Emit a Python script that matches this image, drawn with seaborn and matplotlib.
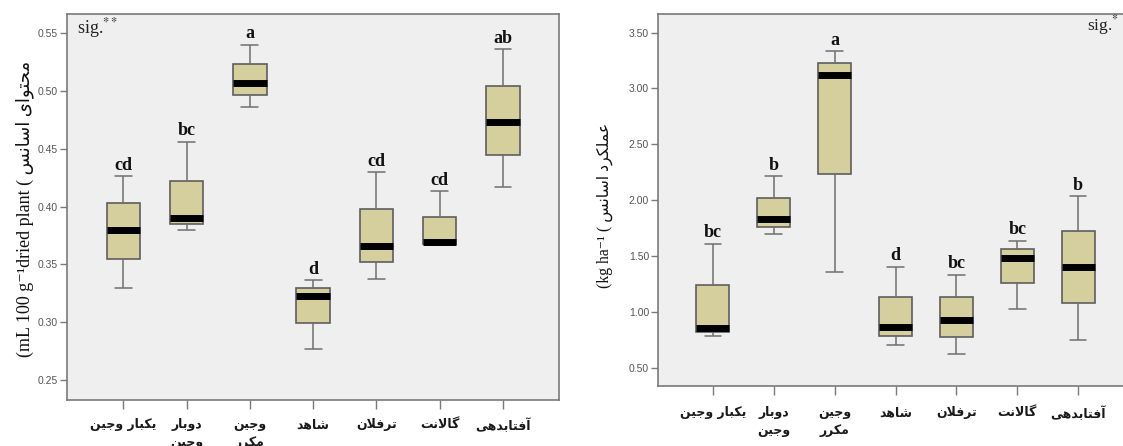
import numpy as np
import pandas as pd
import matplotlib
matplotlib.use("Agg")
import matplotlib.pyplot as plt
import seaborn as sns

# ---------------- data ----------------
categories = ["یکبار وجین", "دوبار\nوجین", "وجین\nمکرر", "شاهد", "ترفلان", "گالانت", "آفتابدهی"]

# essential oil content (mL 100 g-1 dried plant): five-number summaries
content_min = [0.330, 0.380, 0.4865, 0.2765, 0.337, 0.367, 0.4167]
content_q1 = [0.3544, 0.3847, 0.4969, 0.2996, 0.3518, 0.3674, 0.445]
content_med = [0.380, 0.3899, 0.5067, 0.323, 0.3663, 0.3697, 0.4736]
content_q3 = [0.4035, 0.4225, 0.5237, 0.3299, 0.398, 0.391, 0.5047]
content_max = [0.4265, 0.4563, 0.5402, 0.3365, 0.4297, 0.4133, 0.5364]
content_letters = ["cd", "bc", "a", "d", "cd", "cd", "ab"]
content_ticks = [0.25, 0.30, 0.35, 0.40, 0.45, 0.50, 0.55]

# essential oil yield (kg ha-1): five-number summaries
yield_min = [0.784, 1.697, 1.354, 0.706, 0.622, 1.025, 0.745]
yield_q1 = [0.819, 1.763, 2.234, 0.787, 0.772, 1.258, 1.076]
yield_med = [0.855, 1.831, 3.124, 0.861, 0.930, 1.485, 1.404]
yield_q3 = [1.237, 2.022, 3.228, 1.136, 1.130, 1.560, 1.724]
yield_max = [1.610, 2.216, 3.336, 1.404, 1.333, 1.637, 2.037]
yield_letters = ["bc", "b", "a", "d", "bc", "bc", "b"]
yield_ticks = [0.50, 1.00, 1.50, 2.00, 2.50, 3.00, 3.50]

content_ylabel_latin = "(mL 100 g\u207b\u00b9dried plant ( "
content_ylabel_fa = "محتوای اسانس"
yield_ylabel_latin = "(kg ha\u207b\u00b9 ( "
yield_ylabel_fa = "عملکرد اسانس"

# ---------------- minimal Persian shaping (matplotlib has no bidi/shaping) ----------------
FORMS = {
    "ا": ("\uFE8D", "\uFE8E", None, None),
    "آ": ("\uFE81", "\uFE82", None, None),
    "ب": ("\uFE8F", "\uFE90", "\uFE91", "\uFE92"),
    "ت": ("\uFE95", "\uFE96", "\uFE97", "\uFE98"),
    "ج": ("\uFE9D", "\uFE9E", "\uFE9F", "\uFEA0"),
    "ح": ("\uFEA1", "\uFEA2", "\uFEA3", "\uFEA4"),
    "د": ("\uFEA9", "\uFEAA", None, None),
    "ر": ("\uFEAD", "\uFEAE", None, None),
    "س": ("\uFEB1", "\uFEB2", "\uFEB3", "\uFEB4"),
    "ش": ("\uFEB5", "\uFEB6", "\uFEB7", "\uFEB8"),
    "ع": ("\uFEC9", "\uFECA", "\uFECB", "\uFECC"),
    "ف": ("\uFED1", "\uFED2", "\uFED3", "\uFED4"),
    "ل": ("\uFEDD", "\uFEDE", "\uFEDF", "\uFEE0"),
    "م": ("\uFEE1", "\uFEE2", "\uFEE3", "\uFEE4"),
    "ن": ("\uFEE5", "\uFEE6", "\uFEE7", "\uFEE8"),
    "ه": ("\uFEE9", "\uFEEA", "\uFEEB", "\uFEEC"),
    "و": ("\uFEED", "\uFEEE", None, None),
    "ی": ("\uFBFC", "\uFBFD", "\uFBFE", "\uFBFF"),
    "ک": ("\uFB8E", "\uFB8F", "\uFB90", "\uFB91"),
    "گ": ("\uFB92", "\uFB93", "\uFB94", "\uFB95"),
}
LAM_ALEF = {"ا": ("\uFEFB", "\uFEFC"), "آ": ("\uFEF5", "\uFEF6")}


def shape_line(text):
    res = []
    prev_connects = False
    i = 0
    n = len(text)
    while i < n:
        c = text[i]
        if c not in FORMS:
            res.append(c)
            prev_connects = False
            i += 1
            continue
        nxt = text[i + 1] if i + 1 < n else None
        if c == "ل" and nxt in LAM_ALEF:
            lig = LAM_ALEF[nxt]
            res.append(lig[1] if prev_connects else lig[0])
            prev_connects = False
            i += 2
            continue
        iso, fin, ini, med = FORMS[c]
        can_fwd = ini is not None
        next_ok = nxt is not None and nxt in FORMS
        if prev_connects and can_fwd and next_ok:
            res.append(med)
        elif prev_connects:
            res.append(fin)
        elif can_fwd and next_ok:
            res.append(ini)
        else:
            res.append(iso)
        prev_connects = can_fwd
        i += 1
    return "".join(reversed(res))


def fa(text):
    return "\n".join(shape_line(line) for line in text.split("\n"))


# ---------------- style ----------------
sns.set_theme(style="ticks")
plt.rcParams["font.family"] = ["Liberation Sans", "DejaVu Sans"]
plt.rcParams["mathtext.fontset"] = "stix"

BG = "#efefef"
BOX = "#d4cf9c"
EDGE = "#5e5e5e"
FRAME = "#7a7a7a"
SERIF = ["Liberation Serif", "DejaVu Sans"]
ARABIC = ["DejaVu Sans"]

W, H = 1123, 446
fig = plt.figure(figsize=(W / 100, H / 100), dpi=100)
fig.patch.set_facecolor("white")

ax1 = fig.add_axes([67 / W, 1 - 400 / H, (559 - 67) / W, (400 - 14) / H])
ax2 = fig.add_axes([658 / W, 1 - 386 / H, 475 / W, (386 - 14) / H])


def long_df(mins, q1s, meds, q3s, maxs):
    rows = []
    for cat, a, b, c, d, e in zip(categories, mins, q1s, meds, q3s, maxs):
        for v in (a, b, c, d, e):
            rows.append({"group": cat, "value": v})
    return pd.DataFrame(rows)


def draw(ax, df, letters, ticks, ylim, xlim, width, xpad):
    ax.set_facecolor(BG)
    sns.boxplot(
        data=df, x="group", y="value", order=categories, ax=ax,
        color=BOX, saturation=1, width=width, whis=(0, 100),
        showfliers=False, linecolor=EDGE, linewidth=1.2,
        medianprops={"color": "black", "linewidth": 5, "solid_capstyle": "butt"},
        whiskerprops={"color": "#6e6e6e", "linewidth": 1.1},
        capprops={"color": "#6e6e6e", "linewidth": 1.1},
    )
    ax.set_xlim(*xlim)
    ax.set_ylim(*ylim)
    ax.set_yticks(ticks)
    ax.set_yticklabels([f"{t:.2f}" for t in ticks])
    ax.set_xticks(range(len(categories)))
    ax.set_xticklabels([fa(c) for c in categories], family=ARABIC,
                       fontsize=9, fontweight="bold", color="#1a1a1a",
                       linespacing=1.45)
    ax.set_xlabel("")
    ax.set_ylabel("")
    ax.tick_params(axis="y", length=5, width=1, color=FRAME, labelcolor="#555555",
                   labelsize=7.5, pad=1.5)
    ax.tick_params(axis="x", length=6.5, width=1, color=FRAME, pad=xpad)
    for sp in ax.spines.values():
        sp.set_visible(True)
        sp.set_color(FRAME)
        sp.set_linewidth(1.2)
    grp = df.groupby("group", sort=False)["value"].max()
    for i, (cat, let) in enumerate(zip(categories, letters)):
        ax.annotate(let, xy=(i, grp[cat]), xytext=(0, 4.5), textcoords="offset points",
                    ha="center", va="baseline", fontsize=13, fontweight="bold",
                    family=SERIF, color="#111111")


df1 = long_df(content_min, content_q1, content_med, content_q3, content_max)
df2 = long_df(yield_min, yield_q1, yield_med, yield_q3, yield_max)

draw(ax1, df1, content_letters, content_ticks, (0.2327, 0.5667), (-0.89, 6.885), 0.53, 6.5)
draw(ax2, df2, yield_letters, yield_ticks, (0.336, 3.667), (-0.9, 6.9), 0.54, 8)

ax1.text(0.02, 0.951, r"sig.$^{**}$", transform=ax1.transAxes, ha="left", va="baseline",
         fontsize=13, family=SERIF, color="#222222")
ax2.text(0.971, 0.957, r"sig.$^{*}$", transform=ax2.transAxes, ha="right", va="baseline",
         fontsize=12.5, family=SERIF, color="#222222")

fig.text(25 / W, 1 - 209 / H, content_ylabel_latin + fa(content_ylabel_fa),
         rotation=90, ha="center", va="center", fontsize=13, family=SERIF,
         color="#111111")
fig.text(605 / W, 1 - 205 / H, yield_ylabel_latin + fa(yield_ylabel_fa),
         rotation=90, ha="center", va="center", fontsize=11.3, family=SERIF,
         color="#111111")

fig.savefig("out.png", dpi=100)
